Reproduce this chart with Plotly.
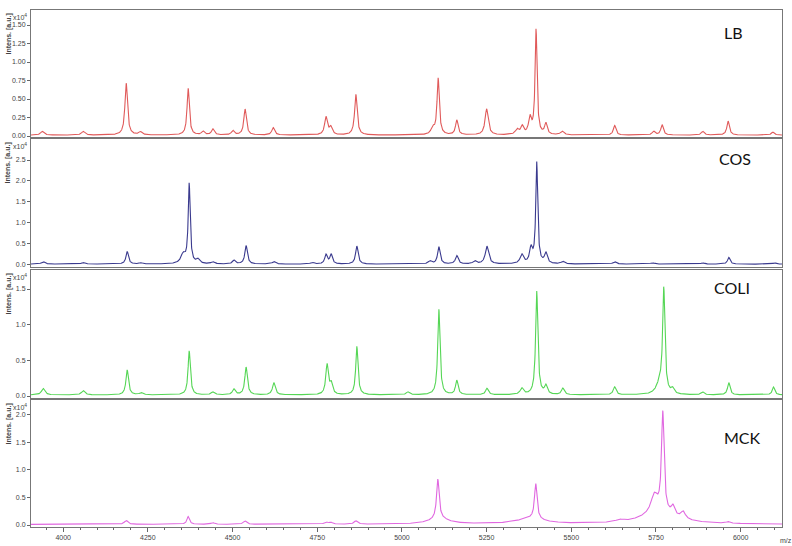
import numpy as np
import plotly.graph_objects as go

# ---------------- data (intensities in units of 1e4 a.u.) ----------------
# peak lists: m/z, height, half-width (Da)
LB_MZ = [3938, 4059, 4186, 4228, 4369, 4413, 4442, 4501, 4537, 4620, 4776, 4790, 4864,
         5091, 5107, 5162, 5250, 5340, 5355, 5378, 5396, 5425, 5473, 5628, 5743, 5768,
         5888, 5963, 6095]
LB_H = [0.05, 0.05, 0.70, 0.04, 0.63, 0.05, 0.08, 0.06, 0.35, 0.10, 0.24, 0.10, 0.55,
        0.09, 0.76, 0.20, 0.35, 0.07, 0.11, 0.22, 1.42, 0.15, 0.05, 0.13, 0.05, 0.14,
        0.05, 0.19, 0.04]
LB_W = [6, 6, 4.5, 6, 4, 5, 5, 5, 4.5, 5, 5, 5, 4.5,
        6, 4, 4.5, 5.5, 6, 5, 5, 3.5, 4.5, 6, 4.5, 5, 4.5,
        5, 4.5, 5]

COS_MZ = [3941, 4059, 4189, 4230, 4354, 4372, 4398, 4442, 4504, 4540, 4622, 4735, 4776,
          4791, 4867, 5083, 5109, 5162, 5215, 5251, 5354, 5381, 5398, 5425, 5475, 5628,
          5740, 5888, 5965, 6100]
COS_H = [0.06, 0.04, 0.30, 0.03, 0.22, 1.90, 0.10, 0.05, 0.09, 0.44, 0.06, 0.04, 0.22,
         0.23, 0.43, 0.07, 0.41, 0.20, 0.07, 0.42, 0.22, 0.35, 2.40, 0.25, 0.06, 0.06,
         0.03, 0.03, 0.16, 0.03]
COS_W = [6, 6, 4.5, 6, 8, 3.5, 6, 6, 5, 4.5, 6, 6, 4.5,
         4.5, 4.5, 6, 4.5, 5, 6, 6, 6, 5, 3.5, 5, 6, 6,
         8, 6, 4.5, 6]

COLI_MZ = [3941, 4059, 4189, 4230, 4372, 4442, 4504, 4540, 4622, 4779, 4791, 4867, 5018,
           5109, 5162, 5251, 5354, 5398, 5425, 5475, 5628, 5761, 5773, 5799, 5888, 5965,
           6097]
COLI_H = [0.09, 0.06, 0.35, 0.03, 0.62, 0.04, 0.08, 0.39, 0.17, 0.42, 0.15, 0.68, 0.04,
          1.20, 0.20, 0.09, 0.09, 1.45, 0.12, 0.09, 0.11, 0.14, 1.45, 0.07, 0.04, 0.17,
          0.11]
COLI_W = [6, 6, 4.5, 6, 4, 6, 5, 4.5, 5, 4.5, 5, 4, 6,
          4, 4.5, 5, 6, 4, 5, 5, 5, 12, 4, 5, 5, 4.5,
          4.5]

MCK_MZ = [4186, 4369, 4442, 4537, 4776, 4790, 4864, 5106, 5110, 5380, 5395, 5643,
          5745, 5770, 5760, 5800, 5830, 5963]
MCK_H = [0.07, 0.14, 0.03, 0.06, 0.04, 0.03, 0.06, 0.72, 0.10, 0.10, 0.64, 0.04,
         0.33, 1.80, 0.20, 0.16, 0.13, 0.03]
MCK_W = [6, 4.5, 6, 6, 6, 6, 6, 4.5, 35, 50, 4.5, 12,
         12, 4.5, 65, 6, 8, 6]

LABELS = ["LB", "COS", "COLI", "MCK"]
COLORS = ["#e05a5a", "#3a3a8e", "#55d655", "#e068e0"]
Y_RANGES = [[-0.0135, 1.703], [-0.048, 3.0], [-0.028, 1.767], [-0.036, 2.27]]
Y_TICKS = [[0, 0.25, 0.5, 0.75, 1.0, 1.25, 1.5],
           [0, 0.5, 1.0, 1.5, 2.0, 2.5],
           [0, 0.5, 1.0, 1.5],
           [0, 0.5, 1.0, 1.5, 2.0]]
Y_FMT = [".2f", ".1f", ".1f", ".1f"]
X_TICKS = [4000, 4250, 4500, 4750, 5000, 5250, 5500, 5750, 6000]
X_RANGE = [3905, 6122]
BASELINE = [0.012, 0.02, 0.015, 0.012]

# ---------------- build spectra ----------------
mz = np.linspace(X_RANGE[0], X_RANGE[1], 4000)


def spectrum(centers, heights, widths, base):
    y = np.full_like(mz, base)
    for c, h, w in zip(centers, heights, widths):
        y += h * w * w / ((mz - c) ** 2 + w * w)
    return y


series = [
    spectrum(LB_MZ, LB_H, LB_W, BASELINE[0]),
    spectrum(COS_MZ, COS_H, COS_W, BASELINE[1]),
    spectrum(COLI_MZ, COLI_H, COLI_W, BASELINE[2]),
    spectrum(MCK_MZ, MCK_H, MCK_W, BASELINE[3]),
]

W, H = 792, 546
PANELS = [(10, 137), (139, 267), (270, 398), (400, 527)]
XL, XR = 31, 782
LABEL_POS = [(733, 32), (735, 158), (732, 287), (742, 437)]

fig = go.Figure()
layout = dict(
    width=W, height=H,
    margin=dict(l=0, r=0, t=0, b=0),
    paper_bgcolor="white", plot_bgcolor="white",
    showlegend=False,
    font=dict(family="Liberation Sans, Arial, sans-serif", size=7, color="#444"),
)
annotations = []
for i in range(4):
    n = "" if i == 0 else str(i + 1)
    fig.add_trace(go.Scatter(
        x=mz, y=series[i], mode="lines",
        line=dict(color=COLORS[i], width=1.1),
        xaxis="x" + n, yaxis="y" + n, hoverinfo="skip",
    ))
    top, bot = PANELS[i]
    last = (i == 3)
    xa = dict(
        domain=[XL / W, XR / W], range=X_RANGE, anchor="y" + n,
        showline=True, linecolor="#777", linewidth=1, mirror=True,
        showgrid=False, zeroline=False,
        showticklabels=last,
        tickfont=dict(size=7, color="#444"),
        automargin=False,
    )
    if last:
        xa.update(tickvals=X_TICKS, ticks="outside", ticklen=4, tickcolor="#666",
                  minor=dict(dtick=50, ticks="outside", ticklen=2, tickcolor="#666"))
    else:
        xa.update(ticks="")
    layout["xaxis" + n] = xa
    layout["yaxis" + n] = dict(
        domain=[1 - bot / H, 1 - top / H], range=Y_RANGES[i], anchor="x" + n,
        showline=True, linecolor="#777", linewidth=1, mirror=True,
        showgrid=False, zeroline=False,
        tickvals=Y_TICKS[i], tickformat=Y_FMT[i],
        ticks="outside", ticklen=3, tickcolor="#666",
        tickfont=dict(size=7, color="#444"),
        automargin=False,
    )
    lx, ly = LABEL_POS[i]
    annotations.append(dict(
        text=LABELS[i], x=lx / W, y=1 - ly / H, xref="paper", yref="paper",
        showarrow=False, xanchor="center", yanchor="middle",
        font=dict(family="Lato, Open Sans, sans-serif", size=16, color="#111"),
    ))
    annotations.append(dict(
        text="<b>Intens. [a.u.]</b>", x=8 / W, y=1 - (top + 2) / H,
        xref="paper", yref="paper", showarrow=False, textangle=-90,
        xanchor="center", yanchor="top",
        font=dict(size=7, color="#444"),
    ))
    annotations.append(dict(
        text="x10<sup>4</sup>", x=29 / W, y=1 - (top + 1) / H,
        xref="paper", yref="paper", showarrow=False,
        xanchor="right", yanchor="top",
        font=dict(size=7, color="#444"),
    ))

annotations.append(dict(
    text="m/z", x=786 / W, y=1 - 540 / H, xref="paper", yref="paper",
    showarrow=False, xanchor="center", yanchor="middle",
    font=dict(size=7, color="#444"),
))
layout["annotations"] = annotations
fig.update_layout(**layout)
fig.write_html("out.html")
